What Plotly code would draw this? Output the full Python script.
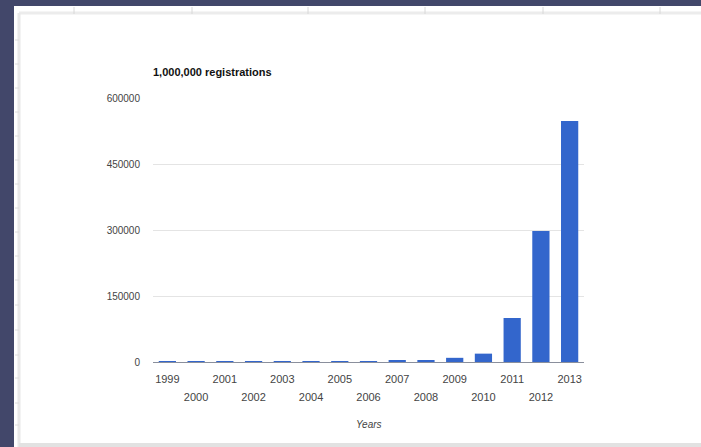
import plotly.graph_objects as go

years = list(range(1999, 2014))
registrations = [100, 200, 300, 500, 1000, 1200, 1500, 2000, 2500, 4500,
                 9500, 19000, 100000, 298000, 548000]
y_ticks = [0, 150000, 300000, 450000, 600000]
odd_years = [y for y in years if y % 2 == 1]
even_years = [y for y in years if y % 2 == 0]

W, H = 701, 447
L, R, T, B = 153, 117, 98, 85
PW, PH = W - L - R, H - T - B

def px(x):
    return (x - L) / PW

def py(y):
    return (H - B - y) / PH

FONT = "Liberation Sans, Arial, sans-serif"
BG = "#42476a"

fig = go.Figure()
fig.add_trace(go.Bar(x=years, y=registrations, marker_color="#3366cc",
                     marker_line_width=0, hoverinfo="x+y"))
fig.add_trace(go.Scatter(x=years, y=registrations, mode="none", xaxis="x2",
                         showlegend=False, hoverinfo="skip"))

shapes = [
    dict(type="rect", xref="paper", yref="paper", x0=px(14), x1=px(W + 2),
         y0=py(H + 2), y1=py(6), fillcolor="white", line_width=0, layer="below"),
    dict(type="line", xref="paper", yref="paper", x0=px(19), x1=px(W),
         y0=py(13), y1=py(13), line=dict(color="#ececec", width=3), layer="below"),
    dict(type="line", xref="paper", yref="paper", x0=px(19), x1=px(19),
         y0=py(13), y1=py(H), line=dict(color="#e8e8e8", width=3), layer="below"),
    dict(type="rect", xref="paper", yref="paper", x0=px(19), x1=px(W + 2),
         y0=py(H + 2), y1=py(443), fillcolor="#e2e2e2", line_width=0, layer="below"),
]
for tx in [74, 192, 308, 425, 543, 660]:
    shapes.append(dict(type="line", xref="paper", yref="paper", x0=px(tx), x1=px(tx),
                       y0=py(7), y1=py(14), line=dict(color="#d8d8d8", width=1),
                       layer="below"))
for ty in [40, 64, 88, 112, 136, 160, 184, 208, 232, 256, 280, 305, 330, 355, 378, 403, 425]:
    shapes.append(dict(type="line", xref="paper", yref="paper", x0=px(15), x1=px(19),
                       y0=py(ty), y1=py(ty), line=dict(color="#dcdcdc", width=1),
                       layer="below"))

fig.update_layout(
    width=W, height=H,
    margin=dict(l=L, r=R, t=T, b=B, autoexpand=False),
    paper_bgcolor=BG, plot_bgcolor="white",
    bargap=0.4, showlegend=False,
    font=dict(family=FONT, size=10, color="#444"),
    title=dict(text="<b>1,000,000 registrations</b>", x=px(153), xref="paper",
               xanchor="left", y=1 - 72 / H, yanchor="middle",
               font=dict(family=FONT, size=11, color="#111")),
    shapes=shapes,
    xaxis=dict(range=[1998.5, 2013.5], tickvals=odd_years,
               ticktext=[str(y) for y in odd_years], showgrid=False,
               zeroline=False, showline=False, ticks="", ticklabelstandoff=9,
               tickfont=dict(size=11, color="#444")),
    xaxis2=dict(range=[1998.5, 2013.5], overlaying="x", anchor="y", side="bottom",
                tickvals=even_years, ticktext=[str(y) for y in even_years],
                showgrid=False, zeroline=False, showline=False, ticks="",
                ticklabelstandoff=27, tickfont=dict(size=11, color="#444")),
    yaxis=dict(range=[0, 600000], tickvals=y_ticks,
               ticktext=[str(v) for v in y_ticks], gridcolor="#e4e4e4",
               zeroline=True, zerolinecolor="#8a8f9c", zerolinewidth=1,
               showline=False, ticks="", ticklabelstandoff=12,
               tickfont=dict(size=10, color="#444")),
    annotations=[dict(text="<i>Years</i>", xref="paper", yref="paper",
                      x=0.5, y=py(424), xanchor="center", yanchor="middle",
                      showarrow=False, font=dict(family=FONT, size=10, color="#444"))],
)

fig.write_html("out.html")
